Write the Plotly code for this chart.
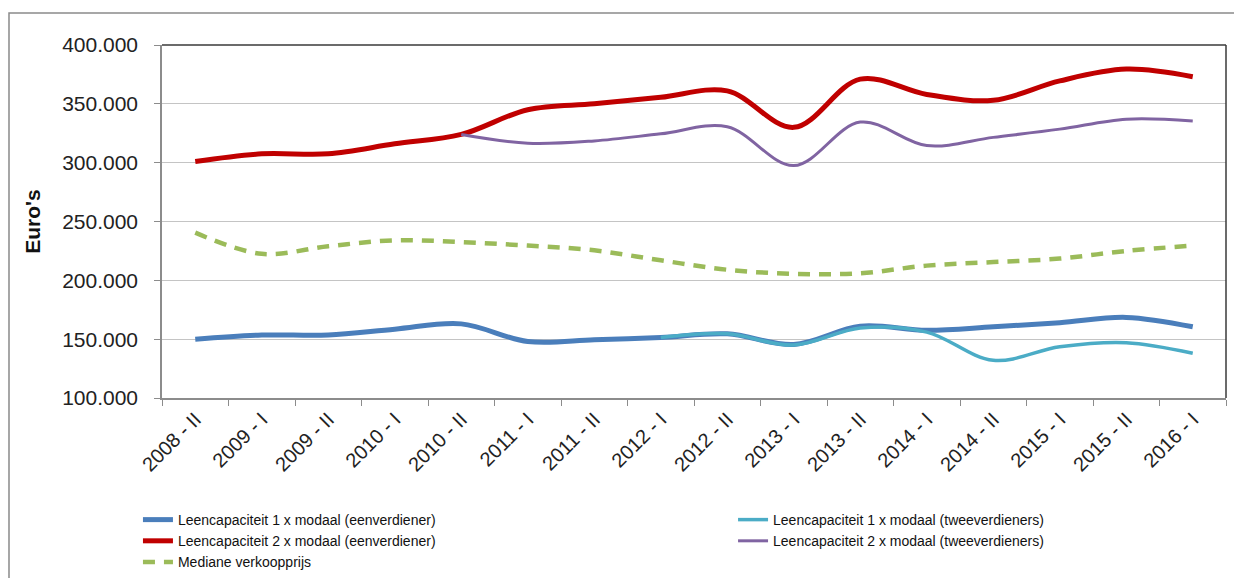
import plotly.graph_objects as go

periods = ["2008 - II", "2009 - I", "2009 - II", "2010 - I", "2010 - II", "2011 - I",
           "2011 - II", "2012 - I", "2012 - II", "2013 - I", "2013 - II", "2014 - I",
           "2014 - II", "2015 - I", "2015 - II", "2016 - I"]

# leencapaciteit 1 x modaal (eenverdiener)
een_1x = [150000, 153500, 153500, 158500, 163000, 148000, 149500, 151500,
          154500, 145500, 161000, 157500, 160500, 164000, 168500, 160500]
# leencapaciteit 1 x modaal (tweeverdieners)
twee_1x = [None, None, None, None, None, None, None, 151500,
           154500, 145000, 159500, 156000, 132000, 143500, 147000, 138000]
# leencapaciteit 2 x modaal (eenverdiener)
een_2x = [301000, 307500, 307500, 316000, 324000, 345000, 350000, 355500,
          361000, 330000, 371000, 358000, 353000, 369500, 379500, 373000]
# leencapaciteit 2 x modaal (tweeverdieners)
twee_2x = [None, None, None, None, 324000, 316500, 318500, 324500,
           330500, 297500, 334500, 314500, 321500, 328500, 337000, 335500]
mediaan = [240500, 222500, 229000, 234000, 232500, 229500, 225500, 217000,
           209000, 205500, 206000, 212500, 215500, 218500, 225000, 229500]

FONT = "Liberation Sans, Arial, sans-serif"

fig = go.Figure()


def add_line(values, name, color, width, legend, dash="solid"):
    fig.add_trace(go.Scatter(x=periods, y=values, name=name, mode='lines',
                             line=dict(color=color, width=width, dash=dash,
                                       shape='spline', smoothing=1.0),
                             connectgaps=False, legend=legend))


add_line(een_1x, "Leencapaciteit 1 x modaal (eenverdiener)", '#4A7EBB', 5, 'legend')
add_line(twee_1x, "Leencapaciteit 1 x modaal (tweeverdieners)", '#4BACC6', 3.5, 'legend2')
add_line(een_2x, "Leencapaciteit 2 x modaal (eenverdiener)", '#C00000', 5, 'legend')
add_line(twee_2x, "Leencapaciteit 2 x modaal (tweeverdieners)", '#8064A2', 3, 'legend2')
add_line(mediaan, "Mediane verkoopprijs", '#9BBB59', 4.5, 'legend', dash="12px,9px")

legend_style = dict(orientation='v', xref='paper', yref='container',
                    xanchor='left', yanchor='top', traceorder='normal',
                    font=dict(family=FONT, size=14, color='#111111'),
                    bgcolor='rgba(0,0,0,0)', itemwidth=30, tracegroupgap=0)

# the page body adds an 8px offset, so the figure is 8px smaller on each axis
fig.update_layout(
    width=1234, height=570,
    template='plotly_white',
    paper_bgcolor='white', plot_bgcolor='white',
    separators=',.',
    margin=dict(l=154, r=16, t=37, b=180),
    font=dict(family=FONT, color='#222222'),
    showlegend=True,
    legend=dict(x=-0.0226, y=0.1298, **legend_style),
    legend2=dict(x=0.5367, y=0.1298, **legend_style),
)

fig.update_xaxes(type='category', range=[-0.5, len(periods) - 0.5],
                 tickangle=-45, tickson='boundaries',
                 ticks='outside', ticklen=6, tickcolor='#8C8C8C',
                 showline=True, linecolor='#8C8C8C', linewidth=1.5,
                 showgrid=False, zeroline=False, automargin=False,
                 tickfont=dict(family=FONT, size=20, color='#222222'))

fig.update_yaxes(range=[100000, 400000], dtick=50000, tickformat=',.0f',
                 ticks='outside', ticklen=6, tickcolor='#8C8C8C',
                 showline=True, linecolor='#8C8C8C', linewidth=1.5,
                 showgrid=True, gridcolor='#C4C4C4', gridwidth=1,
                 zeroline=False, automargin=False, ticklabelstandoff=12,
                 tickfont=dict(family=FONT, size=21, color='#222222'),
                 title=dict(text="<b>Euro's</b>", standoff=16,
                            font=dict(family=FONT, size=21, color='#111111')))

# dark top and right frame of the plot area
fig.add_shape(type='line', xref='paper', yref='paper', x0=0, x1=1, y0=1, y1=1,
              line=dict(color='#3A3A3A', width=1.5))
fig.add_shape(type='line', xref='paper', yref='paper', x0=1, x1=1, y0=0, y1=1,
              line=dict(color='#3A3A3A', width=1.5))
# outer chart border
fig.add_shape(type='rect', xref='paper', yref='paper', x0=-0.1438, x1=1.03,
              y0=-0.6, y1=1.0907, line=dict(color='#8A8A8A', width=1.5))

fig.write_html("out.html")
